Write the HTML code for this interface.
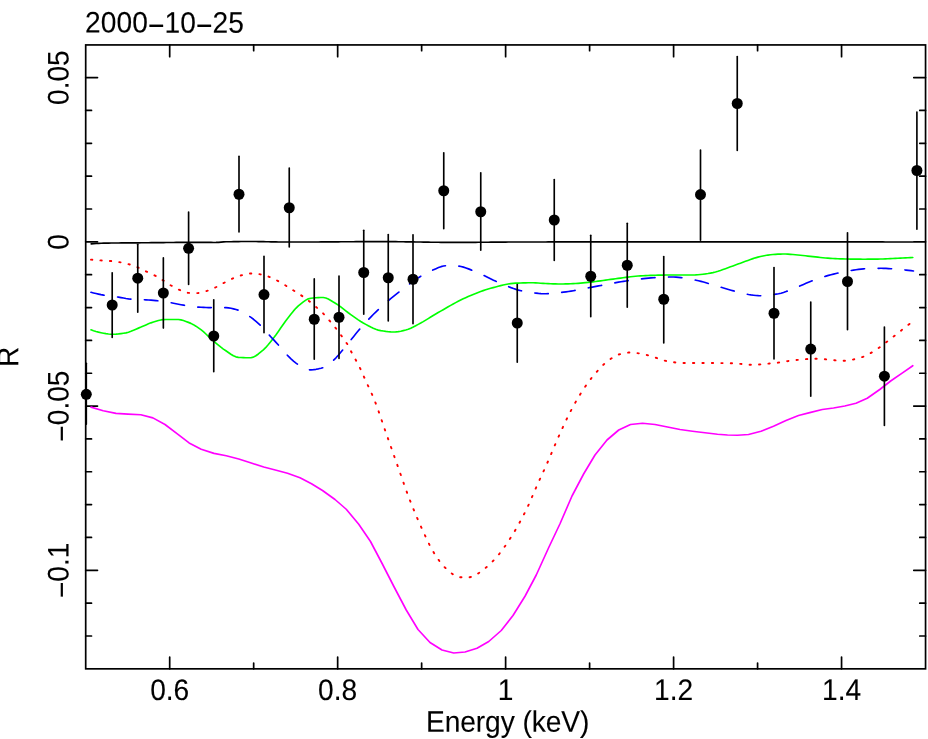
<!DOCTYPE html>
<html lang="en"><head><meta charset="utf-8"><title>2000-10-25</title>
<style>
html,body{margin:0;padding:0;background:#fff;}
body{width:928px;height:739px;overflow:hidden;}
svg{display:block;will-change:transform;}
text{font-family:"Liberation Sans",sans-serif;font-size:28.15px;fill:#000;stroke:#000;stroke-width:0.1px;}
</style></head><body>
<svg width="928" height="739" viewBox="0 0 928 739">
<rect x="0" y="0" width="928" height="739" fill="#ffffff"/>
<g stroke="#000" stroke-width="1.7" fill="none" stroke-linecap="square">
<rect x="85.7" y="44.93" width="839.85" height="623.91"/>
</g>
<g stroke="#000" stroke-width="1.7" fill="none" stroke-linecap="round">
<path d="M169.69 668.84 v-11.8 M169.69 44.93 v11.8"/>
<path d="M253.67 668.84 v-5.8 M253.67 44.93 v5.8"/>
<path d="M337.66 668.84 v-11.8 M337.66 44.93 v11.8"/>
<path d="M421.64 668.84 v-5.8 M421.64 44.93 v5.8"/>
<path d="M505.62 668.84 v-11.8 M505.62 44.93 v11.8"/>
<path d="M589.61 668.84 v-5.8 M589.61 44.93 v5.8"/>
<path d="M673.60 668.84 v-11.8 M673.60 44.93 v11.8"/>
<path d="M757.58 668.84 v-5.8 M757.58 44.93 v5.8"/>
<path d="M841.56 668.84 v-11.8 M841.56 44.93 v11.8"/>
<path d="M85.7 635.99 h5.8 M925.55 635.99 h-5.8"/>
<path d="M85.7 603.14 h5.8 M925.55 603.14 h-5.8"/>
<path d="M85.7 570.30 h11.8 M925.55 570.30 h-11.8"/>
<path d="M85.7 537.45 h5.8 M925.55 537.45 h-5.8"/>
<path d="M85.7 504.61 h5.8 M925.55 504.61 h-5.8"/>
<path d="M85.7 471.76 h5.8 M925.55 471.76 h-5.8"/>
<path d="M85.7 438.92 h5.8 M925.55 438.92 h-5.8"/>
<path d="M85.7 406.08 h11.8 M925.55 406.08 h-11.8"/>
<path d="M85.7 373.23 h5.8 M925.55 373.23 h-5.8"/>
<path d="M85.7 340.38 h5.8 M925.55 340.38 h-5.8"/>
<path d="M85.7 307.54 h5.8 M925.55 307.54 h-5.8"/>
<path d="M85.7 274.69 h5.8 M925.55 274.69 h-5.8"/>
<path d="M85.7 241.85 h11.8 M925.55 241.85 h-11.8"/>
<path d="M85.7 209.00 h5.8 M925.55 209.00 h-5.8"/>
<path d="M85.7 176.16 h5.8 M925.55 176.16 h-5.8"/>
<path d="M85.7 143.31 h5.8 M925.55 143.31 h-5.8"/>
<path d="M85.7 110.47 h5.8 M925.55 110.47 h-5.8"/>
<path d="M85.7 77.62 h11.8 M925.55 77.62 h-11.8"/>
</g>
<g>
<text transform="translate(85.10 32.60) rotate(0.03) scale(1 1.055)" text-anchor="start" letter-spacing="0.07">2000<tspan dy="2.9">−</tspan><tspan dy="-2.9">10</tspan><tspan dy="2.9">−</tspan><tspan dy="-2.9">25</tspan></text>
<text transform="translate(169.69 700.00) rotate(0.03) scale(1 1.055)" text-anchor="middle">0.6</text>
<text transform="translate(337.66 700.00) rotate(0.03) scale(1 1.055)" text-anchor="middle">0.8</text>
<text transform="translate(505.62 700.00) rotate(0.03) scale(1 1.055)" text-anchor="middle">1</text>
<text transform="translate(673.60 700.00) rotate(0.03) scale(1 1.055)" text-anchor="middle">1.2</text>
<text transform="translate(841.56 700.00) rotate(0.03) scale(1 1.055)" text-anchor="middle">1.4</text>
<text transform="translate(507.62 731.80) rotate(0.03) scale(1 1.055)" text-anchor="middle" letter-spacing="-0.07">Energy (keV)</text>
<text transform="translate(68.60 77.62) rotate(-90.03) scale(1 1.055)" text-anchor="middle">0.05</text>
<text transform="translate(68.60 241.85) rotate(-90.03) scale(1 1.055)" text-anchor="middle">0</text>
<text transform="translate(68.60 406.08) rotate(-90.03) scale(1 1.055)" text-anchor="middle"><tspan dy="2.9">−</tspan><tspan dy="-2.9">0.05</tspan></text>
<text transform="translate(68.60 570.30) rotate(-90.03) scale(1 1.055)" text-anchor="middle"><tspan dy="2.9">−</tspan><tspan dy="-2.9">0.1</tspan></text>
<text transform="translate(18.20 356.88) rotate(-90.03) scale(1 1.055)" text-anchor="middle">R</text>
</g>
<path d="M91.20 243.90 L93.70 243.71 L96.19 243.53 L98.69 243.38 L101.19 243.26 L103.69 243.18 L106.18 243.13 L108.68 243.08 L111.18 243.05 L113.68 243.02 L116.17 242.99 L118.67 242.96 L121.17 242.94 L123.66 242.92 L126.16 242.90 L128.66 242.88 L131.16 242.86 L133.65 242.85 L136.15 242.83 L138.65 242.81 L141.15 242.79 L143.64 242.77 L146.14 242.75 L148.64 242.72 L151.13 242.69 L153.63 242.67 L156.13 242.64 L158.63 242.61 L161.12 242.59 L163.62 242.56 L166.12 242.53 L168.62 242.50 L171.11 242.48 L173.61 242.45 L176.11 242.43 L178.60 242.41 L181.10 242.38 L183.60 242.37 L186.10 242.35 L188.59 242.33 L191.09 242.32 L193.59 242.31 L196.09 242.30 L198.58 242.30 L201.08 242.30 L203.58 242.32 L206.07 242.35 L208.57 242.39 L211.07 242.42 L213.57 242.45 L216.06 242.44 L218.56 242.31 L221.06 242.11 L223.56 241.92 L226.05 241.80 L228.55 241.74 L231.05 241.70 L233.54 241.65 L236.04 241.61 L238.54 241.58 L241.04 241.55 L243.53 241.53 L246.03 241.51 L248.53 241.50 L251.02 241.50 L253.52 241.51 L256.02 241.54 L258.52 241.57 L261.01 241.62 L263.51 241.67 L266.01 241.72 L268.51 241.77 L271.00 241.82 L273.50 241.87 L276.00 241.92 L278.49 241.95 L280.99 241.98 L283.49 242.00 L285.99 242.00 L288.48 242.00 L290.98 242.00 L293.48 242.00 L295.98 242.00 L298.47 242.00 L300.97 242.00 L303.47 242.00 L305.96 241.99 L308.46 241.99 L310.96 241.98 L313.46 241.97 L315.95 241.96 L318.45 241.95 L320.95 241.93 L323.45 241.92 L325.94 241.90 L328.44 241.88 L330.94 241.87 L333.43 241.85 L335.93 241.83 L338.43 241.81 L340.93 241.79 L343.42 241.77 L345.92 241.76 L348.42 241.74 L350.92 241.72 L353.41 241.70 L355.91 241.69 L358.41 241.67 L360.90 241.66 L363.40 241.64 L365.90 241.63 L368.40 241.62 L370.89 241.61 L373.39 241.61 L375.89 241.60 L378.39 241.60 L380.88 241.60 L383.38 241.60 L385.88 241.61 L388.37 241.63 L390.87 241.65 L393.37 241.67 L395.87 241.69 L398.36 241.72 L400.86 241.75 L403.36 241.78 L405.86 241.82 L408.35 241.86 L410.85 241.89 L413.35 241.93 L415.84 241.97 L418.34 242.01 L420.84 242.05 L423.34 242.09 L425.83 242.13 L428.33 242.17 L430.83 242.20 L433.33 242.24 L435.82 242.27 L438.32 242.30 L440.82 242.32 L443.31 242.35 L445.81 242.37 L448.31 242.38 L450.81 242.39 L453.30 242.40 L455.80 242.40 L458.30 242.40 L460.80 242.39 L463.29 242.38 L465.79 242.37 L468.29 242.36 L470.78 242.35 L473.28 242.33 L475.78 242.31 L478.28 242.29 L480.77 242.27 L483.27 242.25 L485.77 242.23 L488.27 242.21 L490.76 242.19 L493.26 242.17 L495.76 242.15 L498.25 242.12 L500.75 242.10 L503.25 242.09 L505.75 242.07 L508.24 242.05 L510.74 242.04 L513.24 242.02 L515.73 242.01 L518.23 242.00 L520.73 242.00 L523.23 241.99 L525.72 241.99 L528.22 241.98 L530.72 241.98 L533.22 241.97 L535.71 241.97 L538.21 241.96 L540.71 241.96 L543.20 241.95 L545.70 241.95 L548.20 241.94 L550.70 241.94 L553.19 241.94 L555.69 241.93 L558.19 241.93 L560.69 241.92 L563.18 241.92 L565.68 241.91 L568.18 241.91 L570.67 241.91 L573.17 241.90 L575.67 241.90 L578.17 241.89 L580.66 241.89 L583.16 241.89 L585.66 241.88 L588.16 241.88 L590.65 241.88 L593.15 241.87 L595.65 241.87 L598.14 241.87 L600.64 241.86 L603.14 241.86 L605.64 241.86 L608.13 241.85 L610.63 241.85 L613.13 241.85 L615.63 241.85 L618.12 241.84 L620.62 241.84 L623.12 241.84 L625.61 241.84 L628.11 241.83 L630.61 241.83 L633.11 241.83 L635.60 241.83 L638.10 241.83 L640.60 241.82 L643.10 241.82 L645.59 241.82 L648.09 241.82 L650.59 241.82 L653.08 241.81 L655.58 241.81 L658.08 241.81 L660.58 241.81 L663.07 241.81 L665.57 241.81 L668.07 241.81 L670.57 241.81 L673.06 241.80 L675.56 241.80 L678.06 241.80 L680.55 241.80 L683.05 241.80 L685.55 241.80 L688.05 241.80 L690.54 241.80 L693.04 241.80 L695.54 241.80 L698.04 241.80 L700.53 241.80 L703.03 241.80 L705.53 241.80 L708.02 241.80 L710.52 241.80 L713.02 241.80 L715.52 241.80 L718.01 241.80 L720.51 241.80 L723.01 241.80 L725.51 241.80 L728.00 241.80 L730.50 241.80 L733.00 241.80 L735.49 241.80 L737.99 241.81 L740.49 241.81 L742.99 241.81 L745.48 241.81 L747.98 241.81 L750.48 241.81 L752.98 241.81 L755.47 241.81 L757.97 241.81 L760.47 241.81 L762.96 241.82 L765.46 241.82 L767.96 241.82 L770.46 241.82 L772.95 241.82 L775.45 241.82 L777.95 241.82 L780.44 241.83 L782.94 241.83 L785.44 241.83 L787.94 241.83 L790.43 241.83 L792.93 241.83 L795.43 241.84 L797.93 241.84 L800.42 241.84 L802.92 241.84 L805.42 241.84 L807.91 241.85 L810.41 241.85 L812.91 241.85 L815.41 241.85 L817.90 241.86 L820.40 241.86 L822.90 241.86 L825.40 241.86 L827.89 241.87 L830.39 241.87 L832.89 241.87 L835.38 241.88 L837.88 241.88 L840.38 241.88 L842.88 241.88 L845.37 241.89 L847.87 241.89 L850.37 241.89 L852.87 241.90 L855.36 241.90 L857.86 241.90 L860.36 241.91 L862.85 241.91 L865.35 241.92 L867.85 241.92 L870.35 241.92 L872.84 241.93 L875.34 241.93 L877.84 241.94 L880.34 241.94 L882.83 241.94 L885.33 241.95 L887.83 241.95 L890.32 241.96 L892.82 241.96 L895.32 241.97 L897.82 241.97 L900.31 241.98 L902.81 241.98 L905.31 241.98 L907.81 241.99 L910.30 241.99 L912.80 242.00" fill="none" stroke="#000" stroke-width="1.65" stroke-linejoin="round" stroke-linecap="round"/>
<path d="M91.00 259.65 L93.49 259.86 L95.98 260.06 L98.47 260.25 L100.95 260.42 L103.44 260.57 L105.93 260.70 L108.42 260.84 L110.91 261.03 L113.40 261.28 L115.89 261.61 L118.37 261.98 L120.86 262.40 L123.35 262.89 L125.84 263.47 L128.33 264.11 L130.82 264.82 L133.31 265.65 L135.79 266.57 L138.28 267.58 L140.77 268.72 L143.26 269.97 L145.75 271.23 L148.24 272.41 L150.73 273.54 L153.22 274.70 L155.70 275.98 L158.19 277.40 L160.68 278.91 L163.17 280.44 L165.66 282.04 L168.15 283.68 L170.64 285.24 L173.12 286.67 L175.61 288.04 L178.10 289.28 L180.59 290.35 L183.08 291.42 L185.57 292.35 L188.06 292.87 L190.54 292.98 L193.03 293.05 L195.52 293.09 L198.01 293.09 L200.50 292.76 L202.99 292.12 L205.48 291.34 L207.96 290.57 L210.45 289.65 L212.94 288.61 L215.43 287.48 L217.92 286.22 L220.41 284.81 L222.90 283.42 L225.38 282.16 L227.87 280.88 L230.36 279.61 L232.85 278.40 L235.34 277.29 L237.83 276.35 L240.32 275.62 L242.80 274.97 L245.29 274.36 L247.78 273.85 L250.27 273.51 L252.76 273.40 L255.25 273.54 L257.74 273.86 L260.22 274.32 L262.71 274.87 L265.20 275.45 L267.69 276.20 L270.18 277.18 L272.67 278.33 L275.16 279.57 L277.65 280.82 L280.13 282.18 L282.62 283.68 L285.11 285.22 L287.60 286.75 L290.09 288.32 L292.58 289.90 L295.07 291.48 L297.55 293.03 L300.04 294.60 L302.53 296.26 L305.02 298.01 L307.51 299.84 L310.00 301.78 L312.49 303.86 L314.97 306.05 L317.46 308.24 L319.95 310.42 L322.44 312.70 L324.93 315.26 L327.42 318.15 L329.91 321.14 L332.39 324.09 L334.88 327.10 L337.37 330.27 L339.86 333.61 L342.35 337.02 L344.84 340.40 L347.33 344.22 L349.81 348.97 L352.30 353.72 L354.79 358.19 L357.28 362.77 L359.77 367.52 L362.26 372.92 L364.75 378.56 L367.23 383.95 L369.72 389.31 L372.21 394.84 L374.70 400.75 L377.19 407.29 L379.68 414.39 L382.17 421.74 L384.66 429.01 L387.14 436.10 L389.63 443.19 L392.12 450.27 L394.61 457.33 L397.10 464.37 L399.59 471.44 L402.08 478.60 L404.56 485.71 L407.05 492.66 L409.54 499.32 L412.03 505.63 L414.52 511.74 L417.01 517.63 L419.50 523.31 L421.98 528.81 L424.47 534.28 L426.96 539.66 L429.45 544.76 L431.94 549.45 L434.43 553.57 L436.92 557.40 L439.40 560.98 L441.89 564.21 L444.38 566.99 L446.87 569.25 L449.36 571.44 L451.85 573.52 L454.34 575.31 L456.82 576.62 L459.31 577.27 L461.80 577.30 L464.29 577.30 L466.78 577.30 L469.27 577.30 L471.76 576.88 L474.24 575.89 L476.73 574.47 L479.22 572.75 L481.71 570.87 L484.20 568.99 L486.69 567.10 L489.18 564.91 L491.66 562.45 L494.15 559.79 L496.64 556.97 L499.13 554.05 L501.62 550.91 L504.11 547.51 L506.60 543.90 L509.09 540.15 L511.57 536.29 L514.06 532.23 L516.55 527.99 L519.04 523.58 L521.53 519.02 L524.02 514.26 L526.51 509.26 L528.99 504.01 L531.48 498.32 L533.97 492.38 L536.46 486.72 L538.95 481.24 L541.44 475.83 L543.93 470.43 L546.41 464.94 L548.90 459.28 L551.39 453.43 L553.88 447.50 L556.37 441.65 L558.86 436.01 L561.35 430.52 L563.83 425.10 L566.32 419.81 L568.81 414.73 L571.30 409.91 L573.79 405.31 L576.28 400.88 L578.77 396.63 L581.25 392.59 L583.74 388.76 L586.23 385.12 L588.72 381.65 L591.21 378.36 L593.70 375.27 L596.19 372.40 L598.67 369.62 L601.16 366.97 L603.65 364.51 L606.14 362.32 L608.63 360.41 L611.12 358.58 L613.61 356.91 L616.09 355.52 L618.58 354.55 L621.07 353.88 L623.56 353.28 L626.05 352.82 L628.54 352.55 L631.03 352.52 L633.52 352.67 L636.00 352.95 L638.49 353.33 L640.98 353.74 L643.47 354.18 L645.96 354.76 L648.45 355.47 L650.94 356.24 L653.42 357.03 L655.91 357.77 L658.40 358.59 L660.89 359.44 L663.38 360.24 L665.87 360.92 L668.36 361.40 L670.84 361.82 L673.33 362.21 L675.82 362.55 L678.31 362.81 L680.80 362.97 L683.29 363.00 L685.78 363.00 L688.26 363.00 L690.75 363.00 L693.24 363.00 L695.73 363.00 L698.22 363.00 L700.71 363.00 L703.20 363.00 L705.68 363.00 L708.17 363.00 L710.66 363.00 L713.15 363.01 L715.64 363.03 L718.13 363.05 L720.62 363.07 L723.10 363.10 L725.59 363.14 L728.08 363.17 L730.57 363.22 L733.06 363.26 L735.55 363.40 L738.04 363.62 L740.53 363.90 L743.01 364.19 L745.50 364.45 L747.99 364.65 L750.48 364.75 L752.97 364.73 L755.46 364.66 L757.95 364.53 L760.43 364.37 L762.92 364.17 L765.41 363.95 L767.90 363.71 L770.39 363.46 L772.88 363.21 L775.37 362.96 L777.85 362.67 L780.34 362.32 L782.83 361.92 L785.32 361.50 L787.81 361.09 L790.30 360.70 L792.79 360.35 L795.27 360.07 L797.76 359.85 L800.25 359.63 L802.74 359.41 L805.23 359.22 L807.72 359.04 L810.21 358.90 L812.69 358.80 L815.18 358.75 L817.67 358.77 L820.16 358.87 L822.65 359.04 L825.14 359.27 L827.63 359.52 L830.11 359.79 L832.60 360.06 L835.09 360.30 L837.58 360.51 L840.07 360.66 L842.56 360.74 L845.05 360.71 L847.53 360.51 L850.02 360.15 L852.51 359.67 L855.00 359.10 L857.49 358.46 L859.98 357.78 L862.47 357.04 L864.96 356.06 L867.44 354.85 L869.93 353.50 L872.42 352.04 L874.91 350.55 L877.40 348.96 L879.89 347.18 L882.38 345.29 L884.86 343.37 L887.35 341.47 L889.84 339.52 L892.33 337.53 L894.82 335.54 L897.31 333.55 L899.80 331.58 L902.28 329.62 L904.77 327.66 L907.26 325.70 L909.75 323.75" fill="none" stroke="#ff0000" stroke-width="1.9" stroke-dasharray="1.35 8.1" stroke-linecap="round" stroke-linejoin="round"/>
<path d="M91.00 329.80 L93.50 330.69 L96.00 331.49 L98.49 332.17 L100.99 332.69 L103.49 333.19 L105.99 333.64 L108.49 333.99 L110.98 334.21 L113.48 334.24 L115.98 334.12 L118.48 333.90 L120.97 333.59 L123.47 333.23 L125.97 332.83 L128.47 332.18 L130.97 331.31 L133.46 330.29 L135.96 329.20 L138.46 328.13 L140.96 327.11 L143.46 326.02 L145.95 324.88 L148.45 323.79 L150.95 322.84 L153.45 322.06 L155.94 321.27 L158.44 320.53 L160.94 319.93 L163.44 319.57 L165.94 319.50 L168.43 319.50 L170.93 319.50 L173.43 319.50 L175.93 319.50 L178.43 319.53 L180.92 319.88 L183.42 320.54 L185.92 321.41 L188.42 322.38 L190.91 323.38 L193.41 324.65 L195.91 326.18 L198.41 327.88 L200.91 329.67 L203.40 331.72 L205.90 333.99 L208.40 336.35 L210.90 338.70 L213.40 340.91 L215.89 343.03 L218.39 345.14 L220.89 347.19 L223.39 349.09 L225.89 350.78 L228.38 352.48 L230.88 354.20 L233.38 355.73 L235.88 356.86 L238.37 357.40 L240.87 357.54 L243.37 357.66 L245.87 357.74 L248.37 357.79 L250.86 357.78 L253.36 357.15 L255.86 355.79 L258.36 353.96 L260.86 351.93 L263.35 349.89 L265.85 347.43 L268.35 344.54 L270.85 341.40 L273.34 338.20 L275.84 334.95 L278.34 331.45 L280.84 327.82 L283.34 324.22 L285.83 320.79 L288.33 317.56 L290.83 314.30 L293.33 311.16 L295.83 308.30 L298.32 305.91 L300.82 303.87 L303.32 301.88 L305.82 300.14 L308.31 298.85 L310.81 298.20 L313.31 297.96 L315.81 297.76 L318.31 297.61 L320.80 297.52 L323.30 297.51 L325.80 298.00 L328.30 299.06 L330.80 300.47 L333.29 302.00 L335.79 303.46 L338.29 305.08 L340.79 306.91 L343.29 308.85 L345.78 310.83 L348.28 312.76 L350.78 314.55 L353.28 316.33 L355.77 318.11 L358.27 319.86 L360.77 321.52 L363.27 323.04 L365.77 324.40 L368.26 325.74 L370.76 327.05 L373.26 328.26 L375.76 329.31 L378.26 330.12 L380.75 330.63 L383.25 331.04 L385.75 331.40 L388.25 331.70 L390.74 331.91 L393.24 332.00 L395.74 331.92 L398.24 331.64 L400.74 331.20 L403.23 330.66 L405.73 330.06 L408.23 329.31 L410.73 328.25 L413.23 327.00 L415.72 325.68 L418.22 324.38 L420.72 323.04 L423.22 321.62 L425.71 320.13 L428.21 318.61 L430.71 317.07 L433.21 315.53 L435.71 314.01 L438.20 312.53 L440.70 311.10 L443.20 309.68 L445.70 308.25 L448.20 306.82 L450.69 305.40 L453.19 304.00 L455.69 302.63 L458.19 301.31 L460.69 300.04 L463.18 298.83 L465.68 297.70 L468.18 296.59 L470.68 295.51 L473.17 294.46 L475.67 293.43 L478.17 292.45 L480.67 291.51 L483.17 290.62 L485.66 289.79 L488.16 289.02 L490.66 288.32 L493.16 287.63 L495.66 286.93 L498.15 286.25 L500.65 285.60 L503.15 284.99 L505.65 284.44 L508.14 283.97 L510.64 283.59 L513.14 283.32 L515.64 283.17 L518.14 283.06 L520.63 282.97 L523.13 282.89 L525.63 282.82 L528.13 282.78 L530.63 282.75 L533.12 282.77 L535.62 282.87 L538.12 283.04 L540.62 283.23 L543.11 283.40 L545.61 283.53 L548.11 283.64 L550.61 283.75 L553.11 283.85 L555.60 283.93 L558.10 283.99 L560.60 284.00 L563.10 283.97 L565.60 283.91 L568.09 283.82 L570.59 283.71 L573.09 283.59 L575.59 283.47 L578.09 283.32 L580.58 283.13 L583.08 282.92 L585.58 282.69 L588.08 282.44 L590.57 282.17 L593.07 281.86 L595.57 281.53 L598.07 281.17 L600.57 280.81 L603.06 280.45 L605.56 280.09 L608.06 279.75 L610.56 279.43 L613.06 279.11 L615.55 278.77 L618.05 278.42 L620.55 278.07 L623.05 277.73 L625.54 277.39 L628.04 277.07 L630.54 276.76 L633.04 276.48 L635.54 276.23 L638.03 276.02 L640.53 275.85 L643.03 275.73 L645.53 275.62 L648.03 275.52 L650.52 275.42 L653.02 275.33 L655.52 275.25 L658.02 275.18 L660.51 275.11 L663.01 275.06 L665.51 275.03 L668.01 275.01 L670.51 275.00 L673.00 275.00 L675.50 275.00 L678.00 275.00 L680.50 275.00 L683.00 275.00 L685.49 275.00 L687.99 275.00 L690.49 275.00 L692.99 275.00 L695.49 274.91 L697.98 274.72 L700.48 274.47 L702.98 274.20 L705.48 273.91 L707.97 273.54 L710.47 273.10 L712.97 272.61 L715.47 272.03 L717.97 271.31 L720.46 270.49 L722.96 269.59 L725.46 268.66 L727.96 267.73 L730.46 266.84 L732.95 265.94 L735.45 265.02 L737.95 264.08 L740.45 263.15 L742.94 262.23 L745.44 261.34 L747.94 260.44 L750.44 259.53 L752.94 258.65 L755.43 257.84 L757.93 257.14 L760.43 256.55 L762.93 255.99 L765.43 255.49 L767.92 255.06 L770.42 254.75 L772.92 254.54 L775.42 254.34 L777.91 254.18 L780.41 254.06 L782.91 254.00 L785.41 254.03 L787.91 254.13 L790.40 254.31 L792.90 254.52 L795.40 254.76 L797.90 255.00 L800.40 255.24 L802.89 255.48 L805.39 255.76 L807.89 256.06 L810.39 256.36 L812.89 256.66 L815.38 256.94 L817.88 257.19 L820.38 257.46 L822.88 257.71 L825.37 257.95 L827.87 258.16 L830.37 258.32 L832.87 258.47 L835.37 258.60 L837.86 258.73 L840.36 258.84 L842.86 258.92 L845.36 258.99 L847.86 259.03 L850.35 259.07 L852.85 259.11 L855.35 259.14 L857.85 259.17 L860.34 259.18 L862.84 259.20 L865.34 259.20 L867.84 259.19 L870.34 259.17 L872.83 259.14 L875.33 259.10 L877.83 259.06 L880.33 259.01 L882.83 258.96 L885.32 258.87 L887.82 258.76 L890.32 258.64 L892.82 258.51 L895.31 258.38 L897.81 258.26 L900.31 258.14 L902.81 258.02 L905.31 257.89 L907.80 257.76 L910.30 257.63 L912.80 257.50" fill="none" stroke="#00ff00" stroke-width="1.65" stroke-linejoin="round" stroke-linecap="round"/>
<path d="M91.00 292.30 L93.50 292.95 L96.00 293.56 L98.50 294.13 L101.00 294.65 L103.50 295.11 L106.00 295.52 L108.50 295.87 L111.00 296.18 L113.50 296.49 L116.00 296.81 L118.50 297.18 L121.00 297.60 L123.50 298.05 L126.00 298.48 L128.50 298.85 L131.00 299.13 L133.50 299.30 L136.00 299.41 L138.50 299.50 L141.00 299.59 L143.50 299.70 L146.00 299.84 L148.50 300.01 L151.00 300.19 L153.50 300.40 L156.00 300.62 L158.50 300.87 L161.00 301.17 L163.50 301.52 L166.00 301.91 L168.50 302.33 L171.00 302.75 L173.50 303.20 L176.00 303.69 L178.50 304.19 L181.00 304.69 L183.50 305.15 L186.00 305.56 L188.50 305.97 L191.00 306.37 L193.50 306.72 L196.00 306.99 L198.50 307.16 L201.00 307.30 L203.50 307.42 L206.00 307.51 L208.50 307.58 L211.00 307.60 L213.50 307.60 L216.00 307.60 L218.50 307.60 L221.00 307.60 L223.50 307.60 L226.00 307.63 L228.50 307.85 L231.00 308.28 L233.50 308.86 L236.00 309.54 L238.50 310.27 L241.00 311.21 L243.50 312.50 L246.00 314.04 L248.50 315.70 L251.00 317.40 L253.50 319.28 L256.00 321.34 L258.50 323.55 L261.00 325.89 L263.50 328.50 L266.00 331.34 L268.50 334.21 L271.00 336.96 L273.50 339.67 L276.00 342.38 L278.50 345.13 L281.00 348.00 L283.50 350.98 L286.00 353.84 L288.50 356.39 L291.00 358.82 L293.50 361.11 L296.00 363.16 L298.50 364.86 L301.00 366.43 L303.50 367.96 L306.00 369.18 L308.50 369.84 L311.00 369.86 L313.50 369.66 L316.00 369.31 L318.50 368.82 L321.00 368.23 L323.50 367.54 L326.00 366.52 L328.50 364.76 L331.00 362.55 L333.50 360.23 L336.00 357.80 L338.50 355.04 L341.00 352.07 L343.50 349.02 L346.00 346.00 L348.50 342.96 L351.00 339.82 L353.50 336.65 L356.00 333.51 L358.50 330.49 L361.00 327.62 L363.50 324.84 L366.00 322.11 L368.50 319.44 L371.00 316.83 L373.50 314.28 L376.00 311.81 L378.50 309.40 L381.00 307.08 L383.50 304.82 L386.00 302.63 L388.50 300.50 L391.00 298.41 L393.50 296.38 L396.00 294.38 L398.50 292.41 L401.00 290.48 L403.50 288.54 L406.00 286.61 L408.50 284.71 L411.00 282.85 L413.50 281.05 L416.00 279.32 L418.50 277.68 L421.00 276.15 L423.50 274.71 L426.00 273.35 L428.50 272.08 L431.00 270.89 L433.50 269.78 L436.00 268.66 L438.50 267.57 L441.00 266.65 L443.50 266.04 L446.00 265.68 L448.50 265.38 L451.00 265.22 L453.50 265.26 L456.00 265.56 L458.50 266.01 L461.00 266.50 L463.50 267.15 L466.00 267.94 L468.50 268.86 L471.00 269.86 L473.50 270.91 L476.00 271.97 L478.50 273.01 L481.00 274.10 L483.50 275.28 L486.00 276.52 L488.50 277.77 L491.00 279.02 L493.50 280.23 L496.00 281.36 L498.50 282.41 L501.00 283.47 L503.50 284.53 L506.00 285.59 L508.50 286.62 L511.00 287.61 L513.50 288.53 L516.00 289.36 L518.50 290.09 L521.00 290.70 L523.50 291.18 L526.00 291.63 L528.50 292.07 L531.00 292.48 L533.50 292.85 L536.00 293.17 L538.50 293.44 L541.00 293.63 L543.50 293.73 L546.00 293.74 L548.50 293.67 L551.00 293.52 L553.50 293.31 L556.00 293.06 L558.50 292.78 L561.00 292.48 L563.50 292.18 L566.00 291.88 L568.50 291.53 L571.00 291.14 L573.50 290.71 L576.00 290.24 L578.50 289.75 L581.00 289.25 L583.50 288.75 L586.00 288.25 L588.50 287.78 L591.00 287.32 L593.50 286.86 L596.00 286.39 L598.50 285.92 L601.00 285.44 L603.50 284.96 L606.00 284.48 L608.50 284.00 L611.00 283.53 L613.50 283.07 L616.00 282.62 L618.50 282.18 L621.00 281.76 L623.50 281.35 L626.00 280.97 L628.50 280.61 L631.00 280.24 L633.50 279.88 L636.00 279.53 L638.50 279.19 L641.00 278.87 L643.50 278.58 L646.00 278.32 L648.50 278.11 L651.00 277.93 L653.50 277.77 L656.00 277.61 L658.50 277.47 L661.00 277.33 L663.50 277.21 L666.00 277.12 L668.50 277.05 L671.00 277.01 L673.50 277.01 L676.00 277.11 L678.50 277.31 L681.00 277.60 L683.50 277.95 L686.00 278.36 L688.50 278.80 L691.00 279.26 L693.50 279.73 L696.00 280.19 L698.50 280.74 L701.00 281.37 L703.50 282.06 L706.00 282.80 L708.50 283.56 L711.00 284.32 L713.50 285.07 L716.00 285.78 L718.50 286.51 L721.00 287.25 L723.50 288.00 L726.00 288.75 L728.50 289.48 L731.00 290.19 L733.50 290.87 L736.00 291.50 L738.50 292.16 L741.00 292.81 L743.50 293.44 L746.00 294.02 L748.50 294.52 L751.00 294.91 L753.50 295.20 L756.00 295.47 L758.50 295.67 L761.00 295.75 L763.50 295.69 L766.00 295.53 L768.50 295.28 L771.00 294.96 L773.50 294.59 L776.00 294.18 L778.50 293.75 L781.00 293.21 L783.50 292.47 L786.00 291.59 L788.50 290.62 L791.00 289.60 L793.50 288.59 L796.00 287.61 L798.50 286.58 L801.00 285.49 L803.50 284.38 L806.00 283.28 L808.50 282.23 L811.00 281.25 L813.50 280.33 L816.00 279.42 L818.50 278.54 L821.00 277.70 L823.50 276.88 L826.00 276.12 L828.50 275.40 L831.00 274.74 L833.50 274.11 L836.00 273.50 L838.50 272.91 L841.00 272.36 L843.50 271.83 L846.00 271.35 L848.50 270.90 L851.00 270.50 L853.50 270.12 L856.00 269.75 L858.50 269.40 L861.00 269.10 L863.50 268.86 L866.00 268.70 L868.50 268.59 L871.00 268.50 L873.50 268.42 L876.00 268.36 L878.50 268.31 L881.00 268.30 L883.50 268.33 L886.00 268.43 L888.50 268.57 L891.00 268.74 L893.50 268.93 L896.00 269.12 L898.50 269.32 L901.00 269.54 L903.50 269.78 L906.00 270.06 L908.50 270.35 L911.00 270.67 L913.50 271.00" fill="none" stroke="#0000ff" stroke-width="1.65" stroke-dasharray="13.5 13.5" stroke-linecap="round" stroke-linejoin="round"/>
<path d="M91.00 407.15 L103.20 410.80 L116.00 413.40 L128.00 414.10 L140.80 414.80 L152.90 417.90 L165.00 424.50 L177.00 433.70 L189.10 442.90 L201.20 449.30 L214.00 453.40 L226.25 455.75 L238.75 459.00 L251.25 463.00 L263.75 467.00 L276.25 470.25 L287.50 473.25 L300.00 477.75 L311.50 483.75 L322.50 490.50 L335.00 499.50 L346.25 509.25 L358.75 524.25 L370.50 541.50 L382.50 564.25 L393.75 586.25 L406.25 610.00 L418.00 629.50 L430.00 642.50 L442.00 650.00 L453.75 653.00 L465.00 652.00 L477.00 648.25 L488.75 641.50 L501.25 630.50 L513.00 615.50 L525.00 596.25 L536.25 575.00 L548.75 547.50 L560.00 523.75 L572.00 496.00 L583.75 473.75 L595.00 455.00 L607.00 440.00 L618.75 430.00 L630.50 424.50 L642.50 423.25 L655.00 424.50 L667.50 427.00 L680.00 429.50 L692.50 431.25 L705.00 432.75 L717.50 434.25 L727.50 435.00 L737.50 435.20 L748.50 434.50 L761.00 431.25 L773.50 426.25 L786.00 420.50 L798.50 415.50 L809.75 412.60 L822.25 409.50 L833.50 408.00 L844.75 406.00 L856.00 403.25 L867.25 398.25 L879.75 389.50 L891.00 380.75 L902.50 372.90 L912.80 365.70" fill="none" stroke="#ff00ff" stroke-width="1.65" stroke-linejoin="round" stroke-linecap="round"/>
<g stroke="#000" stroke-width="1.65" stroke-linecap="round">
<path d="M86.30 363.32 V424.18"/>
<path d="M112.20 272.82 V337.43"/>
<path d="M137.75 244.22 V312.18"/>
<path d="M163.35 257.93 V328.07"/>
<path d="M188.60 212.12 V284.38"/>
<path d="M213.75 299.82 V371.68"/>
<path d="M239.00 156.32 V231.93"/>
<path d="M264.00 256.43 V332.68"/>
<path d="M289.25 168.07 V246.93"/>
<path d="M314.25 278.93 V359.18"/>
<path d="M339.00 276.07 V358.43"/>
<path d="M363.75 230.32 V314.18"/>
<path d="M388.25 234.57 V320.93"/>
<path d="M413.00 234.82 V323.68"/>
<path d="M443.75 152.82 V228.68"/>
<path d="M480.75 172.82 V250.18"/>
<path d="M517.25 284.57 V362.18"/>
<path d="M554.25 179.57 V260.43"/>
<path d="M590.75 235.32 V316.68"/>
<path d="M627.25 223.32 V307.18"/>
<path d="M663.75 256.57 V342.93"/>
<path d="M700.50 150.07 V240.18"/>
<path d="M737.25 56.58 V150.43"/>
<path d="M774.00 267.57 V358.93"/>
<path d="M810.75 302.07 V396.18"/>
<path d="M847.50 232.82 V329.68"/>
<path d="M884.40 327.12 V425.43"/>
<path d="M916.90 112.08 V229.18"/>
</g>
<g fill="#000">
<circle cx="86.30" cy="394.30" r="5.5"/>
<circle cx="112.20" cy="305.00" r="5.5"/>
<circle cx="137.75" cy="278.20" r="5.5"/>
<circle cx="163.35" cy="293.00" r="5.5"/>
<circle cx="188.60" cy="248.30" r="5.5"/>
<circle cx="213.75" cy="336.00" r="5.5"/>
<circle cx="239.00" cy="194.25" r="5.5"/>
<circle cx="264.00" cy="294.60" r="5.5"/>
<circle cx="289.25" cy="207.75" r="5.5"/>
<circle cx="314.25" cy="319.25" r="5.5"/>
<circle cx="339.00" cy="317.25" r="5.5"/>
<circle cx="363.75" cy="272.50" r="5.5"/>
<circle cx="388.25" cy="277.75" r="5.5"/>
<circle cx="413.00" cy="279.25" r="5.5"/>
<circle cx="443.75" cy="190.75" r="5.5"/>
<circle cx="480.75" cy="211.75" r="5.5"/>
<circle cx="517.25" cy="323.00" r="5.5"/>
<circle cx="554.25" cy="220.00" r="5.5"/>
<circle cx="590.75" cy="276.25" r="5.5"/>
<circle cx="627.25" cy="265.25" r="5.5"/>
<circle cx="663.75" cy="299.25" r="5.5"/>
<circle cx="700.50" cy="194.60" r="5.5"/>
<circle cx="737.25" cy="103.50" r="5.5"/>
<circle cx="774.00" cy="313.25" r="5.5"/>
<circle cx="810.75" cy="349.10" r="5.5"/>
<circle cx="847.50" cy="281.50" r="5.5"/>
<circle cx="884.40" cy="376.15" r="5.5"/>
<circle cx="916.90" cy="170.50" r="5.5"/>
</g>
</svg>
</body></html>
